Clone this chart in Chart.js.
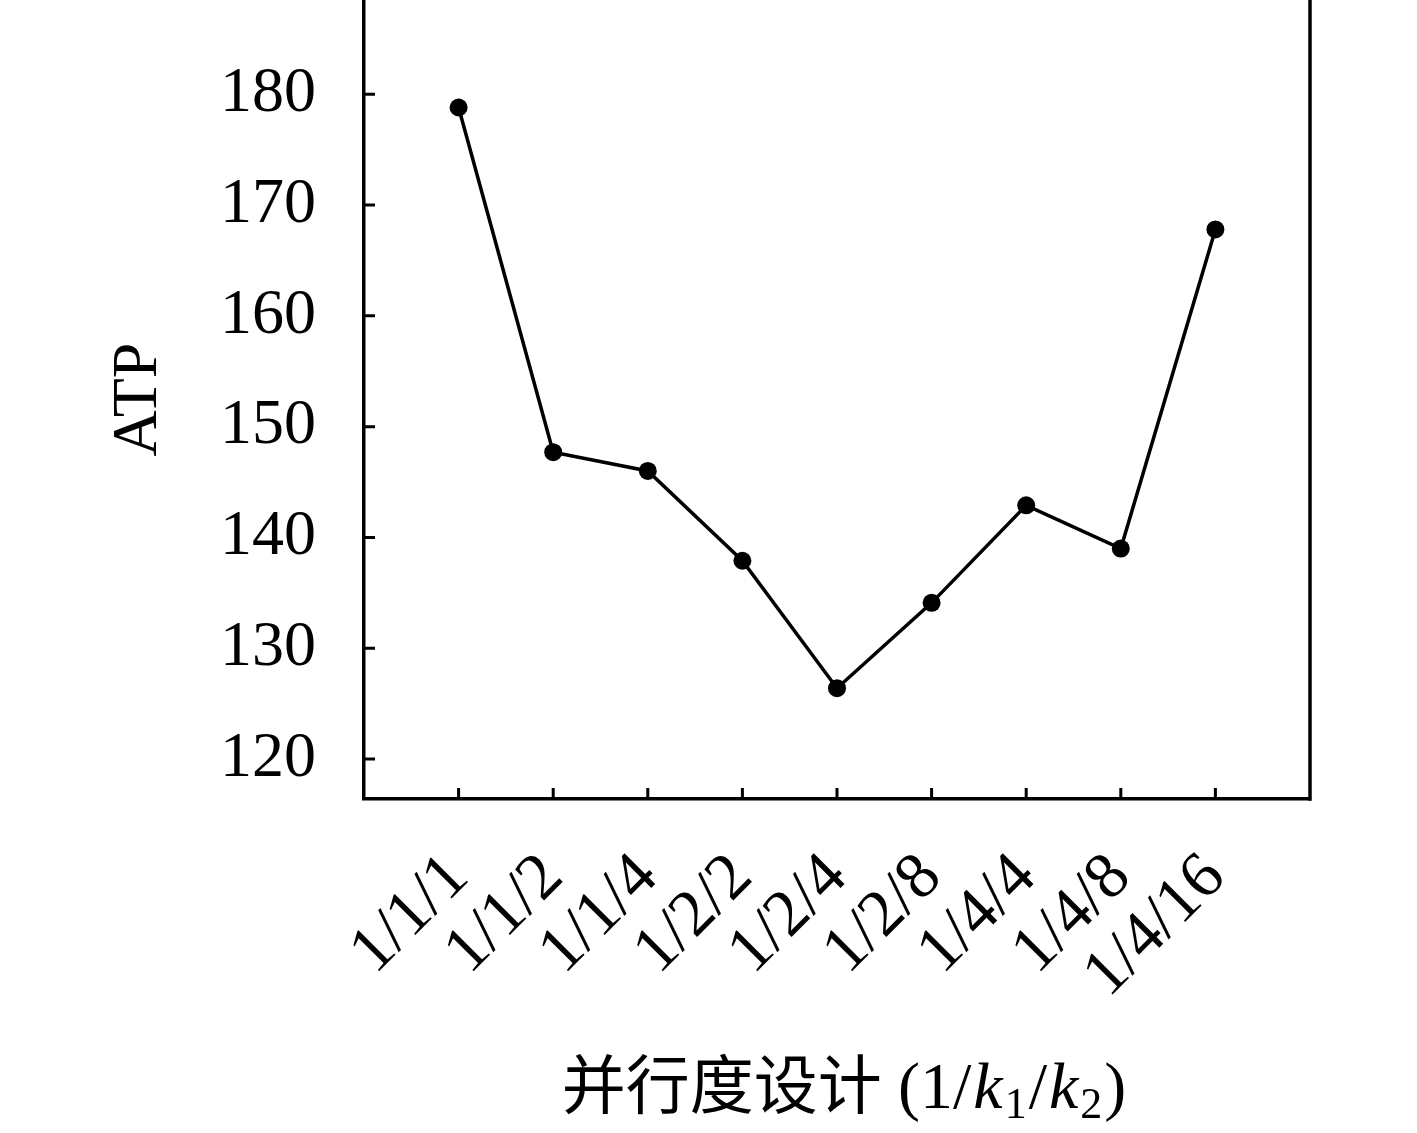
<!DOCTYPE html>
<html lang="zh">
<head>
  <meta charset="UTF-8">
  <title>ATP</title>
  <script src="https://cdn.jsdelivr.net/npm/chart.js"></script>
  <style>
    html, body { margin: 0; padding: 0; background: #fff; overflow: hidden; }
    #wrap { width: 1417px; height: 1133px; position: relative; }
  </style>
</head>
<body>
  <div id="wrap"><canvas id="graph"></canvas></div>

  <script>
    // datos
    const labels = ['1/1/1', '1/1/2', '1/1/4', '1/2/2', '1/2/4', '1/2/8', '1/4/4', '1/4/8', '1/4/16'];
    const atp = [178.8, 147.7, 146.0, 137.9, 126.4, 134.1, 142.9, 139.0, 167.8];
    const yTicks = [120, 130, 140, 150, 160, 170, 180];
    const yTitle = 'ATP';
    const xTitleCjk = '并行度设计 ';

    const serif = '"Liberation Serif", "DejaVu Serif", serif';

    // ticks hacia dentro, borde derecho y título del eje x
    const frame = {
      id: 'frame',
      afterDraw(chart) {
        const { ctx, chartArea } = chart;
        const xs = chart.scales.x, ys = chart.scales.y;
        ctx.save();
        ctx.strokeStyle = '#000';
        ctx.lineWidth = 3.5;
        ctx.beginPath();
        ctx.moveTo(chartArea.right, chartArea.top);
        ctx.lineTo(chartArea.right, chartArea.bottom + 1.75);
        ctx.stroke();

        ctx.lineWidth = 3;
        ctx.beginPath();
        xs.ticks.forEach(t => {
          const px = xs.getPixelForValue(t.value);
          ctx.moveTo(px, chartArea.bottom);
          ctx.lineTo(px, chartArea.bottom - 11);
        });
        ys.ticks.forEach(t => {
          const py = ys.getPixelForValue(t.value);
          ctx.moveTo(chartArea.left, py);
          ctx.lineTo(chartArea.left + 11, py);
        });
        ctx.stroke();

        // 并行度设计 (1/k1/k2)
        const parts = [
          { t: xTitleCjk, f: '64px "Noto Sans CJK SC"', dy: 0 },
          { t: '(1/', f: '66px ' + serif, dy: 0 },
          { t: 'k', f: 'italic 66px ' + serif, dy: 0 },
          { t: '1', f: '44px ' + serif, dy: 10 },
          { t: '/', f: '66px ' + serif, dy: 0 },
          { t: 'k', f: 'italic 66px ' + serif, dy: 0 },
          { t: '2', f: '44px ' + serif, dy: 10 },
          { t: ')', f: '66px ' + serif, dy: 0 }
        ];
        let total = 0;
        parts.forEach(p => { ctx.font = p.f; p.w = ctx.measureText(p.t).width; total += p.w; });
        let x = (chartArea.left + chartArea.right) / 2 - total / 2;
        const base = 1108;
        ctx.fillStyle = '#000';
        ctx.textBaseline = 'alphabetic';
        ctx.textAlign = 'left';
        parts.forEach(p => {
          ctx.font = p.f;
          ctx.fillText(p.t, x, base + p.dy);
          x += p.w + 2;
        });
        ctx.restore();
      }
    };

    const ctx = document.getElementById('graph').getContext('2d');
    new Chart(ctx, {
      type: 'line',
      data: {
        datasets: [{
          data: atp.map((v, i) => ({ x: i + 1, y: v })),
          borderColor: '#000',
          backgroundColor: '#000',
          borderWidth: 3.5,
          pointRadius: 9,
          pointBackgroundColor: '#000',
          pointBorderWidth: 0,
          tension: 0,
          fill: false
        }]
      },
      options: {
        responsive: true,
        maintainAspectRatio: false,
        animation: false,
        layout: { autoPadding: false, padding: { top: 0, left: 0, right: 107, bottom: 0 } },
        plugins: { legend: { display: false }, tooltip: { enabled: false } },
        scales: {
          x: {
            type: 'linear',
            min: 0,
            max: 10,
            afterBuildTicks: s => { s.ticks = labels.map((_, i) => ({ value: i + 1 })); },
            afterFit: s => { s.height = 334; s.paddingLeft = 0; s.paddingRight = 0; },
            grid: { display: false, drawTicks: false },
            border: { display: true, color: '#000', width: 3.5 },
            ticks: {
              autoSkip: false,
              minRotation: 45,
              maxRotation: 45,
              padding: 40,
              color: '#000',
              font: { family: serif, size: 66 },
              callback: v => labels[v - 1]
            }
          },
          y: {
            min: 116.4,
            max: 188.5,
            afterBuildTicks: s => { s.ticks = yTicks.map(v => ({ value: v })); },
            afterFit: s => { s.width = 364; s.paddingTop = 0; s.paddingBottom = 0; },
            grid: { display: false, drawTicks: false },
            border: { display: true, color: '#000', width: 3.5 },
            ticks: {
              padding: 48,
              color: '#000',
              font: { family: serif, size: 64 }
            },
            title: {
              display: true,
              text: yTitle,
              color: '#000',
              font: { family: serif, size: 64 },
              padding: { top: 101, bottom: 0 }
            }
          }
        }
      },
      plugins: [frame]
    });
  </script>
</body>
</html>
